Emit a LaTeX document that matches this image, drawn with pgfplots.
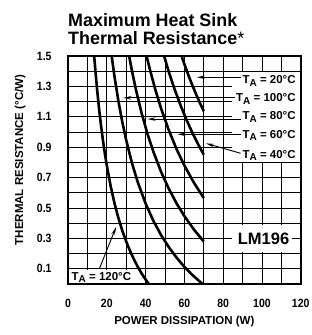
\documentclass[border=0pt]{standalone}
\usepackage{fontspec}
\setmainfont{Liberation Sans}
\newfontfamily\condfont[FakeStretch=0.87]{Liberation Sans}
\usepackage{pgfplots}
\pgfplotsset{compat=1.18}
\usetikzlibrary{arrows.meta}
\tikzset{
  curve/.style={black, line width=2.6pt, mark=none, line join=round},
  arr/.style={black, line width=0.9pt, -{Stealth[length=8pt,width=3.5pt]}},
}
\newcommand{\TA}[1]{T\raisebox{-2.6pt}{\fontsize{10}{10}\selectfont A} = #1°C}
\begin{document}
\begin{tikzpicture}
\useasboundingbox (-68pt,-51pt) rectangle (244pt,284pt);
\begin{axis}[
  scale only axis, width=232.7pt, height=228pt,
  xmin=0, xmax=120, ymin=0, ymax=1.5,
  xtick={0,20,40,60,80,100,120}, minor xtick={10,30,50,70,90,110},
  ytick={0.1,0.3,0.5,0.7,0.9,1.1,1.3,1.5}, minor ytick={0.2,0.4,0.6,0.8,1.0,1.2,1.4},
  grid=both, grid style={black, line width=0.8pt}, minor grid style={black, line width=0.8pt},
  major tick length=0pt, minor tick length=0pt,
  axis line style={line width=1.8pt},
  tick label style={font=\condfont\bfseries\fontsize{12}{12}\selectfont},
  /pgf/number format/assume math mode=true,
  yticklabel style={/pgf/number format/fixed, /pgf/number format/fixed zerofill, /pgf/number format/precision=1, xshift=-13pt},
  xticklabel style={yshift=-12pt},
  xlabel={POWER DISSIPATION (W)},
  ylabel={THERMAL RESISTANCE (°C/W)},
  label style={font=\bfseries\fontsize{11.5}{11.5}\selectfont},
  xlabel style={at={(axis description cs:0.5,0)}, anchor=center, yshift=-38pt},
  ylabel style={at={(axis description cs:-0.206,0.544)}, anchor=center},
  clip=true,
]
% white areas behind the labels
\fill[white] (axis cs:84.5,0.805) rectangle (axis cs:119.5,1.395);
\fill[white] (axis cs:84.5,0.21) rectangle (axis cs:115.5,0.39);
\fill[white] (axis cs:0.8,0.008) rectangle (axis cs:38.5,0.092);
% T_A = 120
\addplot[curve] coordinates {(13.5,1.502) (14,1.423) (15,1.28) (16,1.155) (17,1.045) (18,0.947) (19,0.859) (20,0.78) (22,0.644) (24,0.53) (26,0.434) (28,0.351) (30,0.28) (32,0.2175) (34,0.162) (36,0.113) (38,0.069) (40,0.03) (41.7,0)};
% T_A = 100
\addplot[curve] coordinates {(22.5,1.502) (24,1.363) (26,1.203) (28,1.066) (30,0.947) (33,0.795) (36,0.669) (40,0.53) (44,0.416) (48,0.322) (52,0.242) (56,0.173) (60,0.113) (64,0.061) (69.4,0)};
% T_A = 80
\addplot[curve] coordinates {(31.5,1.502) (33,1.401) (35,1.28) (38,1.122) (41,0.987) (44,0.871) (48,0.738) (52,0.626) (56,0.53) (60,0.447) (65,0.357) (70,0.28)};
% T_A = 60
\addplot[curve] coordinates {(40.5,1.502) (42,1.423) (45,1.28) (48,1.155) (52,1.011) (56,0.887) (60,0.78) (65,0.665) (70,0.566)};
% T_A = 40
\addplot[curve] coordinates {(49.5,1.502) (52,1.395) (55,1.28) (58,1.177) (61,1.083) (64,0.999) (67,0.922) (70,0.851)};
% T_A = 20
\addplot[curve] coordinates {(58.5,1.502) (60,1.447) (62,1.377) (64,1.311) (66,1.25) (68,1.192) (70,1.137)};
% arrows
\draw[arr] (axis cs:89,1.36) -- (axis cs:66.5,1.36);
\draw[arr] (axis cs:86,1.225) -- (axis cs:28.5,1.225);
\draw[arr] (axis cs:89,1.085) -- (axis cs:41,1.085);
\draw[arr] (axis cs:89,0.985) -- (axis cs:56.5,0.985);
\draw[arr] (axis cs:89,0.86) -- (axis cs:71.2,0.925);
\draw[arr] (axis cs:16.3,0.105) -- (axis cs:24.8,0.375);
% labels
\begin{scope}[every node/.style={font=\bfseries\fontsize{11.5}{11.5}\selectfont, inner sep=0pt, anchor=base east}]
\node at (axis cs:117.5,1.319) {\TA{20}};
\node at (axis cs:117.5,1.200) {\TA{100}};
\node at (axis cs:117.5,1.079) {\TA{80}};
\node at (axis cs:117.5,0.958) {\TA{60}};
\node at (axis cs:117.5,0.827) {\TA{40}};
\node[anchor=base west] at (axis cs:1.8,0.025) {\TA{120}};
\end{scope}
\node[anchor=base west, inner sep=0pt, font=\bfseries\fontsize{16.5}{16.5}\selectfont] at (axis cs:87.5,0.257) {LM196};
\end{axis}
\node[anchor=base west, inner sep=0pt, font=\bfseries\fontsize{17.9}{17.9}\selectfont] at (0pt,257.3pt) {Maximum Heat Sink};
\node[anchor=base west, inner sep=0pt, font=\bfseries\fontsize{17.9}{17.9}\selectfont] at (0pt,239.7pt) {Thermal Resistance{\mdseries*}};
\end{tikzpicture}
\end{document}
